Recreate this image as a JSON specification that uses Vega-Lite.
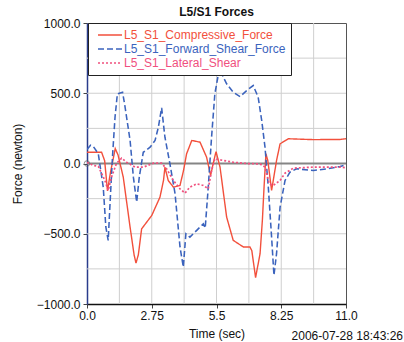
{
  "$schema": "https://vega.github.io/schema/vega-lite/v6.json",
  "width": 259,
  "height": 281,
  "autosize": "none",
  "padding": {"left": 87, "top": 23, "right": 58, "bottom": 38},
  "background": "white",
  "config": {
    "font": "Liberation Sans",
    "view": {"stroke": "#555555", "strokeWidth": 1},
    "axis": {"labelFont": "Liberation Sans", "titleFont": "Liberation Sans", "labelColor": "#111", "titleColor": "#111", "titleFontWeight": "normal", "labelFontSize": 12, "titleFontSize": 12, "tickColor": "#444"}
  },
  "title": {"text": "L5/S1 Forces", "fontSize": 12, "fontWeight": "bold", "font": "Liberation Sans", "color": "#111", "offset": -2},
  "datasets": {
    "forces": [
      {"t": 0, "F": 80, "s": "L5_S1_Compressive_Force"},
      {"t": 0.62, "F": 80, "s": "L5_S1_Compressive_Force"},
      {"t": 0.75, "F": 20, "s": "L5_S1_Compressive_Force"},
      {"t": 0.87, "F": -195, "s": "L5_S1_Compressive_Force"},
      {"t": 1.0, "F": -60, "s": "L5_S1_Compressive_Force"},
      {"t": 1.2, "F": 106, "s": "L5_S1_Compressive_Force"},
      {"t": 1.32, "F": 60, "s": "L5_S1_Compressive_Force"},
      {"t": 1.54, "F": -97, "s": "L5_S1_Compressive_Force"},
      {"t": 1.83, "F": -453, "s": "L5_S1_Compressive_Force"},
      {"t": 2.0, "F": -650, "s": "L5_S1_Compressive_Force"},
      {"t": 2.08, "F": -709, "s": "L5_S1_Compressive_Force"},
      {"t": 2.18, "F": -650, "s": "L5_S1_Compressive_Force"},
      {"t": 2.32, "F": -465, "s": "L5_S1_Compressive_Force"},
      {"t": 2.75, "F": -370, "s": "L5_S1_Compressive_Force"},
      {"t": 3.1, "F": -239, "s": "L5_S1_Compressive_Force"},
      {"t": 3.25, "F": -120, "s": "L5_S1_Compressive_Force"},
      {"t": 3.31, "F": -26, "s": "L5_S1_Compressive_Force"},
      {"t": 3.45, "F": -121, "s": "L5_S1_Compressive_Force"},
      {"t": 3.67, "F": -168, "s": "L5_S1_Compressive_Force"},
      {"t": 3.95, "F": -156, "s": "L5_S1_Compressive_Force"},
      {"t": 4.1, "F": -50, "s": "L5_S1_Compressive_Force"},
      {"t": 4.23, "F": 69, "s": "L5_S1_Compressive_Force"},
      {"t": 4.45, "F": 164, "s": "L5_S1_Compressive_Force"},
      {"t": 4.8, "F": 152, "s": "L5_S1_Compressive_Force"},
      {"t": 5.08, "F": 45, "s": "L5_S1_Compressive_Force"},
      {"t": 5.25, "F": -85, "s": "L5_S1_Compressive_Force"},
      {"t": 5.36, "F": 0, "s": "L5_S1_Compressive_Force"},
      {"t": 5.48, "F": 85, "s": "L5_S1_Compressive_Force"},
      {"t": 5.65, "F": -26, "s": "L5_S1_Compressive_Force"},
      {"t": 5.93, "F": -381, "s": "L5_S1_Compressive_Force"},
      {"t": 6.21, "F": -547, "s": "L5_S1_Compressive_Force"},
      {"t": 6.64, "F": -594, "s": "L5_S1_Compressive_Force"},
      {"t": 6.92, "F": -594, "s": "L5_S1_Compressive_Force"},
      {"t": 7.0, "F": -620, "s": "L5_S1_Compressive_Force"},
      {"t": 7.16, "F": -812, "s": "L5_S1_Compressive_Force"},
      {"t": 7.35, "F": -642, "s": "L5_S1_Compressive_Force"},
      {"t": 7.45, "F": -400, "s": "L5_S1_Compressive_Force"},
      {"t": 7.52, "F": -168, "s": "L5_S1_Compressive_Force"},
      {"t": 7.6, "F": 69, "s": "L5_S1_Compressive_Force"},
      {"t": 7.68, "F": 20, "s": "L5_S1_Compressive_Force"},
      {"t": 7.84, "F": -192, "s": "L5_S1_Compressive_Force"},
      {"t": 8.05, "F": 21, "s": "L5_S1_Compressive_Force"},
      {"t": 8.2, "F": 140, "s": "L5_S1_Compressive_Force"},
      {"t": 8.55, "F": 176, "s": "L5_S1_Compressive_Force"},
      {"t": 9.6, "F": 170, "s": "L5_S1_Compressive_Force"},
      {"t": 10.75, "F": 171, "s": "L5_S1_Compressive_Force"},
      {"t": 11, "F": 176, "s": "L5_S1_Compressive_Force"},

      {"t": 0, "F": 100, "s": "L5_S1_Forward_Shear_Force"},
      {"t": 0.15, "F": 130, "s": "L5_S1_Forward_Shear_Force"},
      {"t": 0.27, "F": 121, "s": "L5_S1_Forward_Shear_Force"},
      {"t": 0.48, "F": 69, "s": "L5_S1_Forward_Shear_Force"},
      {"t": 0.69, "F": -168, "s": "L5_S1_Forward_Shear_Force"},
      {"t": 0.8, "F": -452, "s": "L5_S1_Forward_Shear_Force"},
      {"t": 0.9, "F": -547, "s": "L5_S1_Forward_Shear_Force"},
      {"t": 1.0, "F": -215, "s": "L5_S1_Forward_Shear_Force"},
      {"t": 1.09, "F": 69, "s": "L5_S1_Forward_Shear_Force"},
      {"t": 1.19, "F": 329, "s": "L5_S1_Forward_Shear_Force"},
      {"t": 1.29, "F": 496, "s": "L5_S1_Forward_Shear_Force"},
      {"t": 1.51, "F": 507, "s": "L5_S1_Forward_Shear_Force"},
      {"t": 1.6, "F": 420, "s": "L5_S1_Forward_Shear_Force"},
      {"t": 1.83, "F": 164, "s": "L5_S1_Forward_Shear_Force"},
      {"t": 1.97, "F": -97, "s": "L5_S1_Forward_Shear_Force"},
      {"t": 2.11, "F": -275, "s": "L5_S1_Forward_Shear_Force"},
      {"t": 2.22, "F": -97, "s": "L5_S1_Forward_Shear_Force"},
      {"t": 2.39, "F": 80, "s": "L5_S1_Forward_Shear_Force"},
      {"t": 2.68, "F": 116, "s": "L5_S1_Forward_Shear_Force"},
      {"t": 2.89, "F": 164, "s": "L5_S1_Forward_Shear_Force"},
      {"t": 3.03, "F": 258, "s": "L5_S1_Forward_Shear_Force"},
      {"t": 3.17, "F": 396, "s": "L5_S1_Forward_Shear_Force"},
      {"t": 3.31, "F": 187, "s": "L5_S1_Forward_Shear_Force"},
      {"t": 3.52, "F": 0, "s": "L5_S1_Forward_Shear_Force"},
      {"t": 3.74, "F": -215, "s": "L5_S1_Forward_Shear_Force"},
      {"t": 3.95, "F": -594, "s": "L5_S1_Forward_Shear_Force"},
      {"t": 4.09, "F": -737, "s": "L5_S1_Forward_Shear_Force"},
      {"t": 4.2, "F": -500, "s": "L5_S1_Forward_Shear_Force"},
      {"t": 4.37, "F": -524, "s": "L5_S1_Forward_Shear_Force"},
      {"t": 4.66, "F": -476, "s": "L5_S1_Forward_Shear_Force"},
      {"t": 4.94, "F": -429, "s": "L5_S1_Forward_Shear_Force"},
      {"t": 5.02, "F": -460, "s": "L5_S1_Forward_Shear_Force"},
      {"t": 5.15, "F": -168, "s": "L5_S1_Forward_Shear_Force"},
      {"t": 5.29, "F": 187, "s": "L5_S1_Forward_Shear_Force"},
      {"t": 5.43, "F": 496, "s": "L5_S1_Forward_Shear_Force"},
      {"t": 5.57, "F": 626, "s": "L5_S1_Forward_Shear_Force"},
      {"t": 5.71, "F": 642, "s": "L5_S1_Forward_Shear_Force"},
      {"t": 5.93, "F": 567, "s": "L5_S1_Forward_Shear_Force"},
      {"t": 6.21, "F": 507, "s": "L5_S1_Forward_Shear_Force"},
      {"t": 6.5, "F": 476, "s": "L5_S1_Forward_Shear_Force"},
      {"t": 6.78, "F": 519, "s": "L5_S1_Forward_Shear_Force"},
      {"t": 7.06, "F": 555, "s": "L5_S1_Forward_Shear_Force"},
      {"t": 7.27, "F": 472, "s": "L5_S1_Forward_Shear_Force"},
      {"t": 7.42, "F": 306, "s": "L5_S1_Forward_Shear_Force"},
      {"t": 7.56, "F": 116, "s": "L5_S1_Forward_Shear_Force"},
      {"t": 7.7, "F": -168, "s": "L5_S1_Forward_Shear_Force"},
      {"t": 7.84, "F": -524, "s": "L5_S1_Forward_Shear_Force"},
      {"t": 7.94, "F": -796, "s": "L5_S1_Forward_Shear_Force"},
      {"t": 8.05, "F": -642, "s": "L5_S1_Forward_Shear_Force"},
      {"t": 8.2, "F": -311, "s": "L5_S1_Forward_Shear_Force"},
      {"t": 8.41, "F": -121, "s": "L5_S1_Forward_Shear_Force"},
      {"t": 8.62, "F": -62, "s": "L5_S1_Forward_Shear_Force"},
      {"t": 8.9, "F": -38, "s": "L5_S1_Forward_Shear_Force"},
      {"t": 9.61, "F": -50, "s": "L5_S1_Forward_Shear_Force"},
      {"t": 10.18, "F": -38, "s": "L5_S1_Forward_Shear_Force"},
      {"t": 10.75, "F": -21, "s": "L5_S1_Forward_Shear_Force"},
      {"t": 11, "F": -10, "s": "L5_S1_Forward_Shear_Force"},

      {"t": 0, "F": 9, "s": "L5_S1_Lateral_Shear"},
      {"t": 0.27, "F": -14, "s": "L5_S1_Lateral_Shear"},
      {"t": 0.48, "F": -20, "s": "L5_S1_Lateral_Shear"},
      {"t": 0.76, "F": -121, "s": "L5_S1_Lateral_Shear"},
      {"t": 0.9, "F": -192, "s": "L5_S1_Lateral_Shear"},
      {"t": 1.04, "F": -97, "s": "L5_S1_Lateral_Shear"},
      {"t": 1.25, "F": 0, "s": "L5_S1_Lateral_Shear"},
      {"t": 1.47, "F": 38, "s": "L5_S1_Lateral_Shear"},
      {"t": 1.68, "F": 9, "s": "L5_S1_Lateral_Shear"},
      {"t": 2.04, "F": -26, "s": "L5_S1_Lateral_Shear"},
      {"t": 2.39, "F": -26, "s": "L5_S1_Lateral_Shear"},
      {"t": 2.82, "F": 2, "s": "L5_S1_Lateral_Shear"},
      {"t": 3.17, "F": 2, "s": "L5_S1_Lateral_Shear"},
      {"t": 3.38, "F": -38, "s": "L5_S1_Lateral_Shear"},
      {"t": 3.67, "F": -121, "s": "L5_S1_Lateral_Shear"},
      {"t": 3.95, "F": -180, "s": "L5_S1_Lateral_Shear"},
      {"t": 4.16, "F": -211, "s": "L5_S1_Lateral_Shear"},
      {"t": 4.37, "F": -168, "s": "L5_S1_Lateral_Shear"},
      {"t": 4.66, "F": -145, "s": "L5_S1_Lateral_Shear"},
      {"t": 4.94, "F": -156, "s": "L5_S1_Lateral_Shear"},
      {"t": 5.15, "F": -180, "s": "L5_S1_Lateral_Shear"},
      {"t": 5.29, "F": -50, "s": "L5_S1_Lateral_Shear"},
      {"t": 5.43, "F": 33, "s": "L5_S1_Lateral_Shear"},
      {"t": 5.65, "F": 26, "s": "L5_S1_Lateral_Shear"},
      {"t": 6.21, "F": 9, "s": "L5_S1_Lateral_Shear"},
      {"t": 6.78, "F": 0, "s": "L5_S1_Lateral_Shear"},
      {"t": 7.35, "F": -3, "s": "L5_S1_Lateral_Shear"},
      {"t": 7.56, "F": -26, "s": "L5_S1_Lateral_Shear"},
      {"t": 7.74, "F": -145, "s": "L5_S1_Lateral_Shear"},
      {"t": 7.91, "F": -156, "s": "L5_S1_Lateral_Shear"},
      {"t": 8.2, "F": -121, "s": "L5_S1_Lateral_Shear"},
      {"t": 8.41, "F": -69, "s": "L5_S1_Lateral_Shear"},
      {"t": 8.76, "F": -33, "s": "L5_S1_Lateral_Shear"},
      {"t": 9.61, "F": -26, "s": "L5_S1_Lateral_Shear"},
      {"t": 10.75, "F": -26, "s": "L5_S1_Lateral_Shear"},
      {"t": 11, "F": -30, "s": "L5_S1_Lateral_Shear"}
    ],
    "origin": [{"t": 0, "F": 0}],
    "gridx": [{"t": 1.375}, {"t": 2.75}, {"t": 4.125}, {"t": 5.5}, {"t": 6.875}, {"t": 8.25}, {"t": 9.625}],
    "gridy": [{"F": -750}, {"F": -500}, {"F": -250}, {"F": 250}, {"F": 500}, {"F": 750}],
    "stamp": [{"t": 11, "F": -1000, "label": "2006-07-28 18:43:26"}]
  },
  "layer": [
    {
      "data": {"name": "gridx"},
      "mark": {"type": "rule", "color": "#cfcfcf", "strokeWidth": 1},
      "encoding": {
        "x": {"field": "t", "type": "quantitative", "scale": {"domain": [0, 11], "nice": false},
          "axis": {"title": "Time (sec)", "grid": false, "labelFlush": false, "values": [0, 1.375, 2.75, 4.125, 5.5, 6.875, 8.25, 9.625, 11], "labelExpr": "datum.value == 0 ? '0.0' : datum.value == 11 ? '11.0' : datum.value % 2.75 == 0 ? toString(datum.value) : ''", "domainColor": "#111", "domainWidth": 1.5, "tickSize": 4, "labelPadding": 2, "titlePadding": 7}}
      }
    },
    {
      "data": {"name": "gridy"},
      "mark": {"type": "rule", "color": "#cfcfcf", "strokeWidth": 1},
      "encoding": {
        "y": {"field": "F", "type": "quantitative", "scale": {"domain": [-1000, 1000]},
          "axis": {"title": "Force (newton)", "grid": false, "values": [-1000, -750, -500, -250, 0, 250, 500, 750, 1000], "labelExpr": "datum.value % 500 == 0 ? format(datum.value, '.1f') : ''", "domainColor": "#2a3c8c", "domainWidth": 1.5, "tickSize": 4, "labelPadding": 3, "titlePadding": 12}}
      }
    },
    {
      "data": {"name": "origin"},
      "mark": {"type": "rule", "color": "#858585", "strokeWidth": 2.2},
      "encoding": {"y": {"field": "F", "type": "quantitative"}}
    },
    {
      "data": {"name": "forces"},
      "mark": {"type": "line", "clip": true},
      "encoding": {
        "x": {"field": "t", "type": "quantitative"},
        "y": {"field": "F", "type": "quantitative"},
        "color": {"field": "s", "type": "nominal", "title": null,
          "scale": {"domain": ["L5_S1_Compressive_Force", "L5_S1_Forward_Shear_Force", "L5_S1_Lateral_Shear"], "range": ["#f2503c", "#3b63bd", "#f0507e"]},
          "legend": {"orient": "none", "legendX": 1, "legendY": 0, "strokeColor": "#222", "fillColor": "white", "padding": 5, "rowPadding": 0, "clipHeight": 14, "symbolType": "stroke", "symbolSize": 576, "symbolStrokeWidth": 1.5, "symbolOffset": 4, "labelFontSize": 12, "labelLimit": 300, "labelFont": "Liberation Sans", "labelOffset": 1, "cornerRadius": 0,
            "encode": {"labels": {"update": {"fill": {"scale": "color", "field": "value"}}}}}},
        "strokeDash": {"field": "s", "type": "nominal", "title": null,
          "scale": {"domain": ["L5_S1_Compressive_Force", "L5_S1_Forward_Shear_Force", "L5_S1_Lateral_Shear"], "range": [[1, 0], [6, 3], [2, 2]]}},
        "strokeWidth": {"field": "s", "type": "nominal", "legend": null,
          "scale": {"domain": ["L5_S1_Compressive_Force", "L5_S1_Forward_Shear_Force", "L5_S1_Lateral_Shear"], "range": [1.4, 1.7, 1.1]}}
      }
    },
    {
      "data": {"name": "origin"},
      "mark": {"type": "point", "shape": "circle", "filled": false, "color": "#666", "size": 30, "strokeWidth": 1},
      "encoding": {"x": {"field": "t", "type": "quantitative"}, "y": {"field": "F", "type": "quantitative"}}
    },
    {
      "data": {"name": "stamp"},
      "mark": {"type": "text", "align": "right", "baseline": "middle", "dx": 57, "dy": 32, "fontSize": 12, "font": "Liberation Sans", "color": "#111"},
      "encoding": {"x": {"field": "t", "type": "quantitative"}, "y": {"field": "F", "type": "quantitative"}, "text": {"field": "label"}}
    }
  ]
}
